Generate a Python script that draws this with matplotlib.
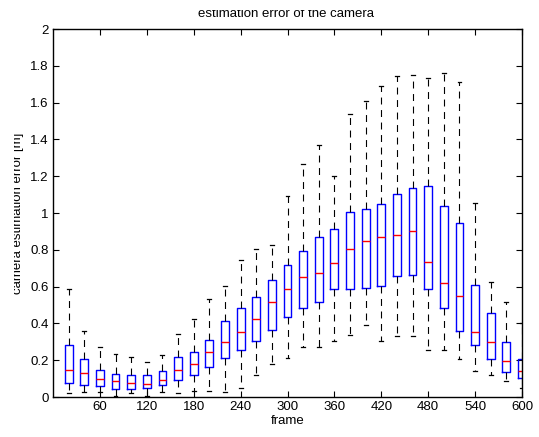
import matplotlib
matplotlib.use('Agg')
import matplotlib.pyplot as plt
from matplotlib.patches import Rectangle

plt.rcParams['font.family'] = ['Liberation Sans', 'DejaVu Sans']
plt.rcParams['lines.scale_dashes'] = False

# frame position of each box
frames = [20, 40, 60, 80, 100, 120, 140, 160, 180, 200,
          220, 240, 260, 280, 300, 320, 340, 360, 380, 400,
          420, 440, 460, 480, 500, 520, 540, 560, 580, 600]
whis_hi = [0.587, 0.36, 0.273, 0.234, 0.217, 0.188, 0.228, 0.345, 0.424, 0.534,
           0.601, 0.745, 0.804, 0.828, 1.094, 1.266, 1.368, 1.199, 1.536, 1.609,
           1.69, 1.746, 1.748, 1.732, 1.761, 1.714, 1.052, 0.623, 0.516, 0.40]
q3 = [0.281, 0.205, 0.147, 0.125, 0.118, 0.121, 0.139, 0.218, 0.246, 0.312,
      0.411, 0.482, 0.543, 0.636, 0.719, 0.795, 0.87, 0.915, 1.004, 1.022,
      1.049, 1.105, 1.138, 1.145, 1.04, 0.947, 0.607, 0.455, 0.297, 0.207]
med = [0.148, 0.13, 0.098, 0.089, 0.076, 0.069, 0.092, 0.146, 0.179, 0.245,
       0.299, 0.355, 0.422, 0.516, 0.589, 0.65, 0.672, 0.726, 0.804, 0.846,
       0.87, 0.879, 0.902, 0.732, 0.618, 0.549, 0.353, 0.297, 0.197, 0.143]
q1 = [0.076, 0.064, 0.058, 0.043, 0.042, 0.047, 0.065, 0.092, 0.12, 0.161,
      0.21, 0.254, 0.303, 0.362, 0.435, 0.482, 0.514, 0.585, 0.587, 0.591,
      0.601, 0.659, 0.661, 0.587, 0.482, 0.359, 0.283, 0.207, 0.138, 0.103]
whis_lo = [0.023, 0.025, 0.025, 0.007, 0.022, 0.007, 0.025, 0.02, 0.031, 0.031,
           0.027, 0.047, 0.121, 0.181, 0.21, 0.27, 0.273, 0.303, 0.337, 0.393,
           0.303, 0.332, 0.333, 0.254, 0.255, 0.207, 0.14, 0.118, 0.087, 0.05]

xticks = [60, 120, 180, 240, 300, 360, 420, 480, 540, 600]
yticks = [0, 0.2, 0.4, 0.6, 0.8, 1, 1.2, 1.4, 1.6, 1.8, 2]
ytick_labels = ['0', '0.2', '0.4', '0.6', '0.8', '1', '1.2', '1.4', '1.6', '1.8', '2']

stats = []
for i in range(len(frames)):
    stats.append({'whislo': whis_lo[i], 'q1': q1[i], 'med': med[i],
                  'q3': q3[i], 'whishi': whis_hi[i], 'fliers': []})

fig = plt.figure(figsize=(5.39, 4.37), dpi=100)
ax = fig.add_axes([53 / 539, 1 - 397 / 437, 469 / 539, 368 / 437])

ax.bxp(stats, positions=frames, widths=10, capwidths=5, showfliers=False,
       boxprops=dict(color='#0000ff', linewidth=1.0),
       medianprops=dict(color='#ff0000', linewidth=1.0),
       whiskerprops=dict(color='black', linewidth=0.8, linestyle=(0, (5, 4))),
       capprops=dict(color='black', linewidth=0.9),
       manage_ticks=False)

ax.set_xlim(0, 600)
ax.set_ylim(0, 2)
ax.set_xticks(xticks)
ax.set_xticklabels([str(t) for t in xticks])
ax.set_yticks(yticks)
ax.set_yticklabels(ytick_labels)
ax.tick_params(direction='in', top=True, right=True, length=4, width=0.8,
               labelsize=9.5, pad=3)
for s in ax.spines.values():
    s.set_linewidth(1.0)

ax.set_xlabel('frame', fontsize=9.5, labelpad=1)
fig.text(286 / 539, 1 - 17 / 437, 'estimation error of the camera',
         ha='center', va='baseline', fontsize=9.5)
fig.text(18 / 539, 1 - 213 / 437, 'camera estimation error [m]',
         ha='center', va='center', rotation=90, fontsize=9.5)

# the original export cuts off the top of the title and the left of the y label
fig.patches.append(Rectangle((0, 1 - 10 / 437), 1, 10 / 437, transform=fig.transFigure,
                             facecolor='white', edgecolor='none', zorder=10))
fig.patches.append(Rectangle((0, 0), 14 / 539, 1, transform=fig.transFigure,
                             facecolor='white', edgecolor='none', zorder=10))

fig.savefig('out.png', dpi=100)
